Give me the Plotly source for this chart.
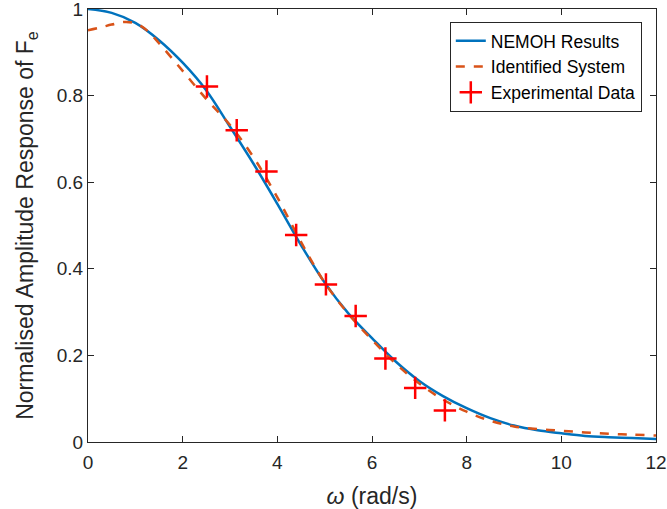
import plotly.graph_objects as go

# NEMOH results
nemoh_w = [0, 0.5, 1, 1.5, 2, 2.5, 3, 3.5, 4, 4.5, 5, 5.5, 6, 6.5, 7, 7.5, 8,
           8.5, 9, 9.5, 10, 10.5, 11, 11.5, 12]
nemoh_amp = [1.000, 0.991, 0.968, 0.928, 0.876, 0.812, 0.728, 0.642, 0.550,
             0.455, 0.368, 0.297, 0.240, 0.186, 0.141, 0.106, 0.078, 0.055,
             0.038, 0.027, 0.020, 0.014, 0.011, 0.009, 0.007]

# Identified system
ident_w = [0, 0.25, 0.5, 0.75, 1.0, 1.25, 1.5, 2, 2.5, 3, 3.5, 4, 4.5, 5, 5.5,
           6, 6.5, 7, 7.5, 8, 8.5, 9, 9.5, 10, 10.5, 11, 11.5, 12]
ident_amp = [0.951, 0.957, 0.964, 0.970, 0.967, 0.950, 0.921, 0.857, 0.792,
             0.732, 0.657, 0.565, 0.462, 0.368, 0.296, 0.236, 0.181, 0.135,
             0.098, 0.070, 0.049, 0.036, 0.030, 0.026, 0.022, 0.019, 0.017,
             0.015]

# Experimental data
exp_w = [2.513, 3.142, 3.770, 4.398, 5.027, 5.655, 6.283, 6.912, 7.540]
exp_amp = [0.821, 0.720, 0.625, 0.478, 0.364, 0.291, 0.193, 0.125, 0.073]

x_ticks = [0, 2, 4, 6, 8, 10, 12]
y_ticks = [0, 0.2, 0.4, 0.6, 0.8, 1]
y_tick_labels = ["0", "0.2", "0.4", "0.6", "0.8", "1"]

axis_color = "#262626"
font_family = "Liberation Sans, Arial, sans-serif"

fig = go.Figure()
fig.add_trace(go.Scatter(x=nemoh_w, y=nemoh_amp, mode="lines", name="NEMOH Results",
                         line=dict(color="#0072BD", width=2.5, shape="spline")))
fig.add_trace(go.Scatter(x=ident_w, y=ident_amp, mode="lines", name="Identified System",
                         line=dict(color="#D95319", width=2.5, dash="dash", shape="spline")))
fig.add_trace(go.Scatter(x=exp_w, y=exp_amp, mode="markers", name="Experimental Data",
                         marker=dict(symbol="cross-thin", size=16, color="#FF0000",
                                     line=dict(color="#FF0000", width=2.5))))

fig.update_layout(
    width=667, height=509,
    margin=dict(l=88, r=11, t=9, b=67, autoexpand=False),
    paper_bgcolor="white", plot_bgcolor="white",
    font=dict(family=font_family, color=axis_color, size=19),
    showlegend=True,
    legend=dict(x=0.975, y=0.97, xanchor="right", yanchor="top",
                bgcolor="white", bordercolor=axis_color, borderwidth=1,
                font=dict(size=17.5, color="#000000")),
)
fig.update_xaxes(range=[0, 12], tickvals=x_ticks, ticks="inside", ticklen=6,
                 tickcolor=axis_color, showline=True, linecolor=axis_color,
                 linewidth=1, mirror="ticks", showgrid=False, zeroline=False,
                 automargin=False, ticklabeloverflow="allow", ticklabelstandoff=3,
                 title=dict(text="<i>ω</i> (rad/s)", standoff=16),
                 tickfont=dict(size=19))
fig.update_yaxes(range=[0, 1], tickvals=y_ticks, ticktext=y_tick_labels,
                 ticks="inside", ticklen=6, tickcolor=axis_color, showline=True,
                 linecolor=axis_color, linewidth=1, mirror="ticks", showgrid=False,
                 zeroline=False, automargin=False, ticklabeloverflow="allow",
                 title=dict(text="Normalised Amplitude Response of F<sub>e</sub>", standoff=16),
                 tickfont=dict(size=19))

fig.write_html("out.html", config={"displayModeBar": False},
               post_script="document.body.style.margin='0';document.body.style.padding='0';")
